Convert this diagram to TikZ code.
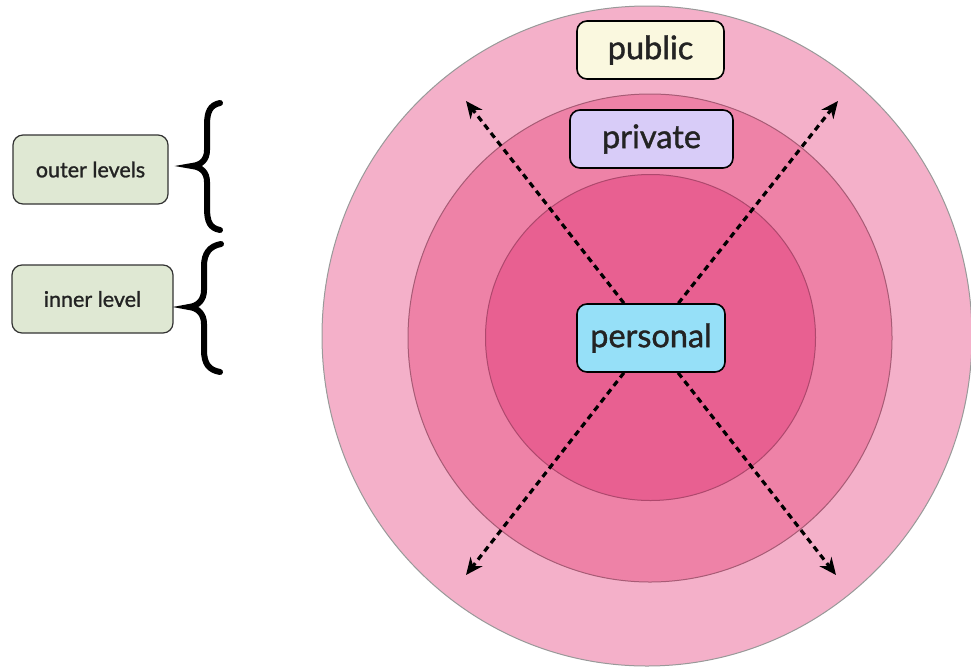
\documentclass[tikz,border=0pt]{standalone}
\usepackage{fontspec}
\setmainfont{Lato}
\newfontfamily\tagfont{Lato}[FakeBold=1.2]
\usetikzlibrary{arrows.meta}
\definecolor{ringA}{RGB}{244,176,201}
\definecolor{ringB}{RGB}{238,130,167}
\definecolor{ringC}{RGB}{232,96,145}
\definecolor{pubfill}{RGB}{250,248,223}
\definecolor{privfill}{RGB}{216,204,248}
\definecolor{persfill}{RGB}{150,224,248}
\definecolor{lvlfill}{RGB}{223,232,211}
\definecolor{txt}{RGB}{35,35,35}
\tikzset{
  ring/.style={line width=1pt},
  tag/.style={draw=black, line width=1.6pt, rounded corners=10pt, text=txt, inner sep=0pt, font=\tagfont\fontsize{32.5}{32.5}\selectfont},
  lvl/.style={draw=black!80, line width=1.2pt, rounded corners=10pt, fill=lvlfill, text=txt, inner sep=0pt, font=\tagfont\fontsize{21.5}{21.5}\selectfont},
  ray/.style={line width=3.2pt, dash pattern=on 6pt off 4.5pt, -{Stealth[length=17pt,width=15pt]}},
  bracestroke/.style={line width=6pt, line cap=round}
}
\begin{document}
\begin{tikzpicture}[x=1pt,y=-1pt]
\useasboundingbox (0,0) rectangle (971,667);
\fill[white] (0,0) rectangle (971,667);
% rings
\filldraw[ring, fill=ringA, draw=black!40] (647,336) ellipse [x radius=325, y radius=330];
\filldraw[ring, fill=ringB, draw=ringB!70!black] (650,338) ellipse [x radius=242, y radius=244];
\filldraw[ring, fill=ringC, draw=ringC!75!black] (650.5,337.5) ellipse [x radius=165, y radius=163];
% tags
\node[tag, fill=pubfill, minimum width=147pt, minimum height=58pt] (public) at (650.5,50) {public};
\node[tag, fill=privfill, minimum width=163pt, minimum height=58pt] (private) at (651.5,139) {private};
\node[tag, fill=persfill, minimum width=148pt, minimum height=68pt] (personal) at (651,338) {personal};
% rays
\coordinate (tUL) at (466,101);
\coordinate (tUR) at (838,101);
\coordinate (tLL) at (466,575);
\coordinate (tLR) at (836,575);
\draw[ray] (personal) -- (tUL);
\draw[ray] (personal) -- (tUR);
\draw[ray] (personal) -- (tLL);
\draw[ray] (personal) -- (tLR);
% level boxes
\node[lvl, minimum width=155pt, minimum height=69pt] (outer) at (90.5,169.5) {outer levels};
\node[lvl, minimum width=161pt, minimum height=68pt] (inner) at (92.5,299) {inner level};
% braces
\draw[bracestroke] (220,103) .. controls (210,105) and (207,112) .. (207,125) -- (207,150)
  .. controls (207,160) and (201,165) .. (192,166) .. controls (201,167) and (207,172) .. (207,182)
  -- (207,208) .. controls (207,222) and (210,228) .. (220,230);
\draw[bracestroke] (221,244) .. controls (210,246) and (204,253) .. (204,266) -- (204,290)
  .. controls (204,300) and (198,306) .. (189,307) .. controls (198,308) and (204,314) .. (204,324)
  -- (204,350) .. controls (204,364) and (209,370) .. (220,372);
\end{tikzpicture}
\end{document}
